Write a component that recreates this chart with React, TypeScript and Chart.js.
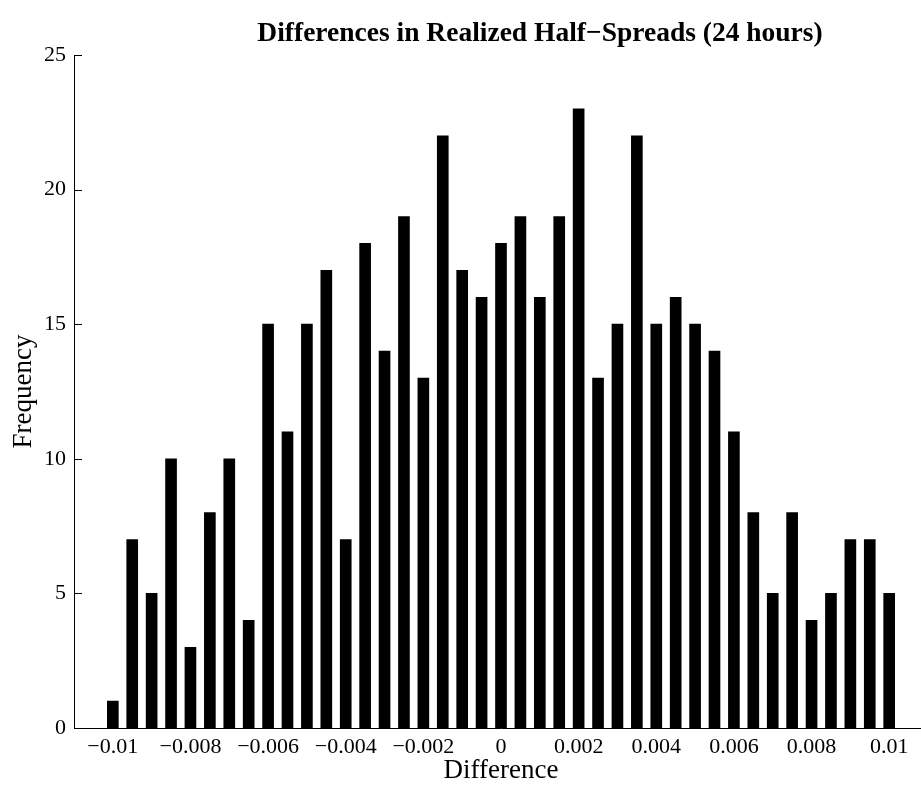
import React, { useEffect, useRef } from "react";
import { Chart, registerables } from "chart.js";

Chart.register(...registerables);

const binCenters = [
  -0.01, -0.0095, -0.009, -0.0085, -0.008, -0.0075, -0.007, -0.0065, -0.006, -0.0055,
  -0.005, -0.0045, -0.004, -0.0035, -0.003, -0.0025, -0.002, -0.0015, -0.001, -0.0005,
  0, 0.0005, 0.001, 0.0015, 0.002, 0.0025, 0.003, 0.0035, 0.004, 0.0045,
  0.005, 0.0055, 0.006, 0.0065, 0.007, 0.0075, 0.008, 0.0085, 0.009, 0.0095, 0.01,
];
const frequencies = [
  1, 7, 5, 10, 3, 8, 10, 4, 15, 11,
  15, 17, 7, 18, 14, 19, 13, 22, 17, 16,
  18, 19, 16, 19, 23, 13, 15, 22, 15, 16,
  15, 14, 11, 8, 5, 8, 4, 5, 7, 7, 5,
];
const xTickValues = [-0.01, -0.008, -0.006, -0.004, -0.002, 0, 0.002, 0.004, 0.006, 0.008, 0.01];
const yTickValues = [0, 5, 10, 15, 20, 25];
const titleText = "Differences in Realized Half\u2212Spreads (24 hours)";
const xLabel = "Difference";
const yLabel = "Frequency";

const FONT = "'Liberation Serif', 'Times New Roman', serif";

function fmt(v: number): string {
  const s = String(Number(v.toPrecision(6)));
  return s.replace("-", "\u2212");
}

export default function App() {
  const ref = useRef<HTMLCanvasElement | null>(null);

  useEffect(() => {
    const canvas = ref.current;
    if (!canvas) return;

    const innerTicks = {
      id: "innerTicks",
      afterDraw(chart: any) {
        const ctx = chart.ctx;
        const xs = chart.scales.x;
        const ys = chart.scales.y;
        const area = chart.chartArea;
        ctx.save();
        ctx.strokeStyle = "#000";
        ctx.lineWidth = 1;
        ctx.beginPath();
        for (const v of yTickValues) {
          const y = Math.round(ys.getPixelForValue(v)) + 0.5;
          ctx.moveTo(area.left, y);
          ctx.lineTo(area.left + 8, y);
        }
        for (const v of xTickValues) {
          const x = Math.round(xs.getPixelForValue(v)) + 0.5;
          ctx.moveTo(x, area.bottom);
          ctx.lineTo(x, area.bottom - 8);
        }
        ctx.stroke();
        ctx.fillStyle = "#000";
        ctx.font = "bold 27.5px " + FONT;
        ctx.textAlign = "center";
        ctx.textBaseline = "alphabetic";
        ctx.fillText(titleText, 540, 41);
        ctx.restore();
      },
    };

    const chart = new Chart(canvas, {
      type: "bar",
      data: {
        datasets: [
          {
            data: binCenters.map((x, i) => ({ x, y: frequencies[i] })),
            backgroundColor: "#000",
            borderWidth: 0,
            barThickness: 11,
          },
        ],
      },
      options: {
        animation: false,
        responsive: false,
        maintainAspectRatio: false,
        layout: { padding: { left: 0, top: 55, right: 12, bottom: 0 } },
        plugins: {
          legend: { display: false },
          tooltip: { enabled: false },
          title: { display: false },
        },
        scales: {
          x: {
            type: "linear",
            min: -0.011,
            max: 0.011,
            offset: false,
            afterBuildTicks: (s: any) => {
              s.ticks = xTickValues.map((v) => ({ value: v }));
            },
            afterFit: (s: any) => {
              s.height = 58;
            },
            grid: { display: false, drawTicks: false },
            border: { display: true, color: "#000", width: 1 },
            ticks: {
              color: "#000",
              font: { family: FONT, size: 22 },
              padding: 6,
              maxRotation: 0,
              autoSkip: false,
              callback: (v: any) => fmt(Number(v)),
            },
            title: {
              display: true,
              text: xLabel,
              color: "#000",
              font: { family: FONT, size: 27 },
              padding: { top: 0, bottom: -1 },
            },
          },
          y: {
            min: 0,
            max: 25,
            afterBuildTicks: (s: any) => {
              s.ticks = yTickValues.map((v) => ({ value: v }));
            },
            afterFit: (s: any) => {
              s.width = 74;
            },
            grid: { display: false, drawTicks: false },
            border: { display: true, color: "#000", width: 1 },
            ticks: {
              color: "#000",
              font: { family: FONT, size: 22 },
              padding: 8,
              callback: (v: any) => fmt(Number(v)),
            },
            title: {
              display: true,
              text: yLabel,
              color: "#000",
              font: { family: FONT, size: 27 },
              padding: { top: 8, bottom: 0 },
            },
          },
        },
      },
      plugins: [innerTicks],
    } as any);

    return () => chart.destroy();
  }, []);

  return (
    <div
      style={{
        position: "fixed",
        left: 0,
        top: 0,
        width: 921,
        height: 786,
        overflow: "hidden",
        background: "#fff",
      }}
    >
      <canvas ref={ref} width={940} height={786} style={{ display: "block" }} />
    </div>
  );
}
